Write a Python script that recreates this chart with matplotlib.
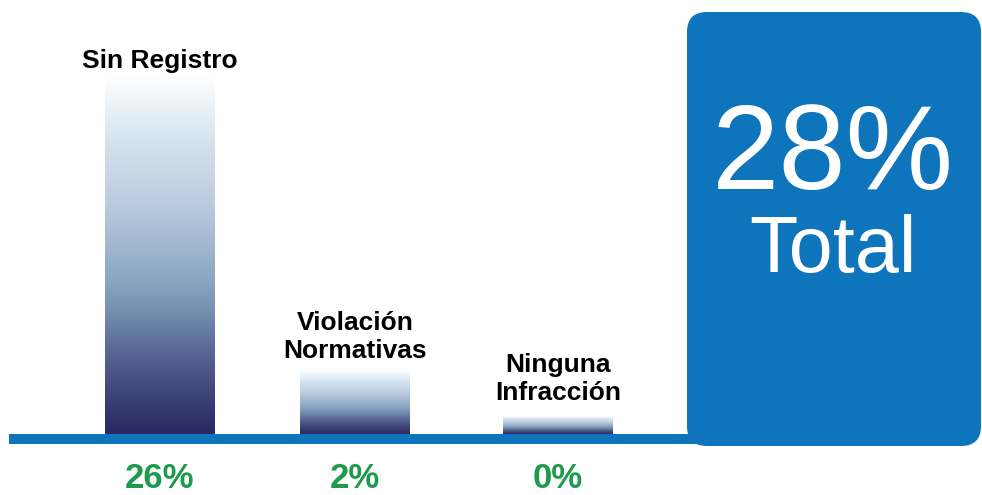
import numpy as np
import matplotlib.pyplot as plt
from matplotlib.colors import LinearSegmentedColormap
from matplotlib.patches import FancyBboxPatch

categories = ['Sin Registro', 'Violación\nNormativas', 'Ninguna\nInfracción']
pct_labels = ['26%', '2%', '0%']
# drawn bar heights (the original bars are not to scale with the percentages)
bar_heights = [26.0, 4.6, 1.25]
total_value = '28%'
total_label = 'Total'

BLUE = '#0e74bb'
GREEN = '#1e9a4c'

plt.rcParams['font.family'] = ['Liberation Sans', 'DejaVu Sans']

fig = plt.figure(figsize=(9.82, 4.95), dpi=100)
ax = fig.add_axes([0, 0, 1, 1])
ax.set_axis_off()

# 1 data unit in x = 199 px, bar 0 centred at 160 px; y: baseline at 61 px from bottom
px_per_y = 358 / 26.0
ax.set_xlim(-160 / 199, (982 - 160) / 199)
ax.set_ylim(-61 / px_per_y, (495 - 61) / px_per_y)

grad = LinearSegmentedColormap.from_list('bar', [
    (0.0, '#ffffff'), (0.1, '#e6eff6'), (0.2, '#d0e0ec'), (0.35, '#bccce0'),
    (0.5, '#9cb3cc'), (0.6, '#84a0bd'), (0.7, '#6a80a6'), (0.8, '#525e8e'),
    (0.9, '#3c4176'), (1.0, '#2a2962')])

x = np.array([0, 0.98, 2.0])  # slightly uneven spacing as in the original
width = 110 / 199
offsets = [3, 8, 12]
gvals = np.linspace(1, 0, 256).reshape(-1, 1)
for xi, h, lab, off in zip(x, bar_heights, categories, offsets):
    ax.imshow(gvals, cmap=grad, origin='lower', aspect='auto',
              extent=[xi - width / 2, xi + width / 2, 0, h], zorder=2)
    ax.annotate(lab, (xi, h), xytext=(0, off), textcoords='offset pixels',
                ha='center', va='bottom', fontsize=19, fontweight='bold',
                linespacing=1.2)

for xi, p in zip(x, pct_labels):
    ax.text(xi, -54 / px_per_y, p, ha='center', va='baseline',
            fontsize=25, fontweight='bold', color=GREEN)

# baseline
ax.axhspan(-10 / px_per_y, 0, xmin=9 / 982, xmax=0.72, color=BLUE, lw=0, zorder=1)

# total box
box = FancyBboxPatch((6.87, 0.49), 2.94, 4.34,
                     boxstyle='round,pad=0,rounding_size=0.2',
                     transform=fig.dpi_scale_trans, facecolor=BLUE,
                     edgecolor='none', zorder=5)
fig.add_artist(box)
fig.text(8.33, 3.06, total_value, transform=fig.dpi_scale_trans, ha='center',
         va='baseline', fontsize=87, color='white', zorder=6)
fig.text(8.33, 2.23, total_label, transform=fig.dpi_scale_trans, ha='center',
         va='baseline', fontsize=57, color='white', zorder=6)

fig.savefig('out.png', dpi=100)
